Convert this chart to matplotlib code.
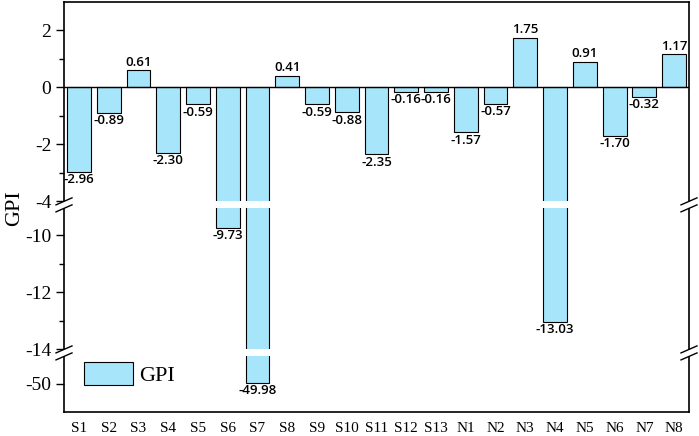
import numpy as np
import matplotlib
matplotlib.use("Agg")
import matplotlib.pyplot as plt
from matplotlib.patches import Polygon

# data
labels = ['S1', 'S2', 'S3', 'S4', 'S5', 'S6', 'S7', 'S8', 'S9', 'S10', 'S11', 'S12', 'S13',
          'N1', 'N2', 'N3', 'N4', 'N5', 'N6', 'N7', 'N8']
gpi = [-2.96, -0.89, 0.61, -2.30, -0.59, -9.73, -49.98, 0.41, -0.59, -0.88, -2.35, -0.16, -0.16,
       -1.57, -0.57, 1.75, -13.03, 0.91, -1.70, -0.32, 1.17]

# broken y axis: [-51,-48.8] | [-14,-8.8] | [-4,3]
def fwd(v):
    v = np.asarray(v, dtype=float)
    return np.where(v >= -4, v,
           np.where(v >= -8.8, -4.0,
           np.where(v >= -14, v + 4.8,
           np.where(v >= -48.8, -9.2, v + 39.6))))

def inv(d):
    d = np.asarray(d, dtype=float)
    return np.where(d >= -4, d, np.where(d >= -9.2, d - 4.8, d - 39.6))

serif = 'Liberation Serif'
bar_color = '#A6E5FA'

fig = plt.figure(figsize=(6.99, 4.36), dpi=100)
ax = fig.add_axes([64/699, 1 - 412/436, 625/699, 410/436])
ax.set_yscale('function', functions=(fwd, inv))

x = np.arange(len(labels))
bars = ax.bar(x, gpi, width=0.8, color=bar_color, edgecolor='black', linewidth=0.8,
              zorder=2, label='GPI')
ax.axhline(0, color='black', linewidth=1.0, zorder=3)

ax.set_xlim(-0.5, len(labels) - 0.5)
ax.set_ylim(-51, 3)

# white gaps through the bars below each break
ax.axhspan(-9.05, -4, color='white', zorder=2.2, linewidth=0)
ax.axhspan(-49.05, -14, color='white', zorder=2.2, linewidth=0)

ax.bar_label(bars, labels=['%.2f' % v for v in gpi], padding=1,
             fontsize=9.5, fontweight='semibold', family='Open Sans')

ax.set_xticks(x)
ax.set_xticklabels(labels, family=serif, fontsize=11)
ax.tick_params(axis='x', length=0, pad=7)

ax.set_yticks([2, 0, -2, -4, -10, -12, -14, -50])
ax.set_yticklabels(['2', '0', '-2', '-4', '-10', '-12', '-14', '-50'], family=serif, fontsize=14)
ax.set_yticks([1, -1, -3, -11, -13], minor=True)
ax.tick_params(axis='y', which='major', length=6, width=1.0, pad=3)
ax.tick_params(axis='y', which='minor', length=3.5, width=1.0)
ax.set_ylabel('GPI', family=serif, fontsize=16)
ax.yaxis.set_label_coords(-0.063, 0.497)

for s in ax.spines.values():
    s.set_linewidth(1.2)

# break marks on both side spines
lo, hi = fwd(-51), fwd(3)
bw, bh = 8 / 625, 3.5 / 410
for yb in [-4.125, -9.325]:
    yc = (yb - lo) / (hi - lo)
    for xc in [0, 1]:
        dy = 3.5 / 410
        up = [(xc - bw, yc + dy - bh), (xc + bw, yc + dy + bh)]
        dn = [(xc - bw, yc - dy - bh), (xc + bw, yc - dy + bh)]
        ax.add_patch(Polygon([up[0], up[1], dn[1], dn[0]], closed=True, facecolor='white',
                             edgecolor='none', transform=ax.transAxes, clip_on=False, zorder=5))
        for seg in (up, dn):
            ax.plot([seg[0][0], seg[1][0]], [seg[0][1], seg[1][1]], color='black', lw=1.0,
                    transform=ax.transAxes, clip_on=False, zorder=6)

ax.legend(loc='lower left', bbox_to_anchor=(0.032, 0.063), frameon=False, borderpad=0,
          borderaxespad=0, handlelength=2.2, handleheight=1.2, handletextpad=0.3,
          prop={'family': serif, 'size': 16})

fig.savefig('out.png', dpi=100)
